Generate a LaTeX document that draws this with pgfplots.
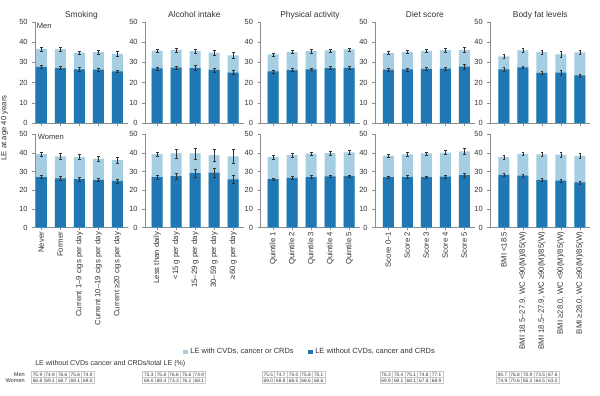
\documentclass[border=0pt]{standalone}
\usepackage{fontspec}
\setmainfont{Liberation Sans}
\usepackage{pgfplots}
\usepackage{pgfplotstable}
\pgfplotsset{compat=1.18}
\definecolor{lightb}{HTML}{A6CEE3}
\definecolor{darkb}{HTML}{1F78B4}
\definecolor{axgray}{HTML}{8C8C8C}
\definecolor{txt}{HTML}{333333}
\definecolor{tabline}{HTML}{C8C8C8}

\pgfplotstableread{
x t te d de
1 36.6 1.0 27.8 0.7
2 36.5 1.0 27.2 0.7
3 34.8 0.9 26.6 0.8
4 35.0 1.0 26.4 0.7
5 34.2 1.1 25.6 0.6
}\smM
\pgfplotstableread{
x t te d de
1 39.3 1.0 27.0 0.8
2 38.2 1.5 26.4 1.0
3 37.8 1.4 26.0 0.9
4 37.0 1.3 25.6 1.0
5 36.3 1.6 25.0 1.1
}\smW
\pgfplotstableread{
x t te d de
1 35.8 0.9 27.0 0.8
2 36.2 1.0 27.4 0.9
3 35.5 1.2 27.2 1.2
4 34.8 1.2 26.3 1.0
5 33.4 1.5 25.0 0.9
}\alM
\pgfplotstableread{
x t te d de
1 39.3 1.3 27.1 1.0
2 39.7 2.5 27.6 1.6
3 39.7 2.9 29.2 2.2
4 38.8 3.0 29.4 2.5
5 38.2 3.6 25.9 2.3
}\alW
\pgfplotstableread{
x t te d de
1 33.9 0.8 25.6 0.7
2 35.1 0.8 26.2 0.7
3 35.5 0.8 26.6 0.7
4 35.9 0.8 27.2 0.7
5 36.4 0.8 27.3 0.7
}\ptM
\pgfplotstableread{
x t te d de
1 37.7 1.1 26.0 0.6
2 38.8 1.1 26.7 0.6
3 39.6 0.9 27.1 0.7
4 39.9 0.9 27.4 0.6
5 40.3 0.9 27.6 0.7
}\ptW
\pgfplotstableread{
x t te d de
1 34.6 0.8 26.4 0.7
2 35.2 0.8 26.5 0.7
3 35.7 0.9 26.8 0.8
4 36.0 1.0 26.9 0.8
5 36.2 1.4 27.9 1.3
}\dtM
\pgfplotstableread{
x t te d de
1 38.6 0.9 27.0 0.7
2 39.2 0.9 27.1 0.7
3 39.7 0.9 27.0 0.7
4 40.2 1.0 27.3 0.7
5 40.8 1.6 28.1 1.1
}\dtW
\pgfplotstableread{
x t te d de
1 33.0 0.9 26.6 0.8
2 35.9 0.9 27.6 0.7
3 35.0 1.1 24.8 0.8
4 34.0 1.6 25.0 1.1
5 34.9 1.0 23.6 0.7
}\bfM
\pgfplotstableread{
x t te d de
1 37.8 1.2 28.3 0.8
2 39.5 1.0 27.9 0.7
3 39.2 1.0 25.6 0.8
4 39.1 1.4 25.2 0.9
5 38.4 1.3 24.2 0.7
}\bfW

\pgfplotsset{
 base/.style={
  anchor=south west,
  x=14.25pt,
  xmax=5.55, ymin=0, ymax=50,
  axis lines=left, axis line style={-, axgray, line width=0.4pt},
  xtick={1,...,5}, ytick={0,10,...,50},
  tick style={axgray, line width=0.4pt},
  major tick length=2pt, tick align=outside,
  ticklabel style={font=\fontsize{5.6}{6}\selectfont, text=txt},
  /pgf/number format/assume math mode=true,
  clip=false,
  title style={font=\fontsize{6.3}{7}\selectfont, text=txt, at={(0.5,1)}, anchor=base, yshift=-3pt},
  xticklabels={},
 },
 wlab/.style={xticklabel style={rotate=90, anchor=east, inner sep=1pt, font=\fontsize{5.8}{6}\selectfont}},
 ebar/.style={error bars/.cd, y dir=both, y explicit,
   error bar style={draw=txt, line width=0.35pt},
   error mark options={draw=txt, rotate=90, mark size=1.1pt, line width=0.35pt}},
}

\newcommand{\drawpanel}[6]{%
\begin{axis}[base, at={({#1*0.75pt},{(396-#2)*0.75pt})}, y=#3, xmin=#4, #6]
\addplot[ybar, bar width=8.25pt, fill=lightb, draw=none, ebar] table[x=x, y=t, y error=te] {#5};
\addplot[ybar, bar width=8.25pt, fill=darkb, draw=none, ebar] table[x=x, y=d, y error=de] {#5};
\end{axis}}

\tikzset{tabtxt/.style={font=\fontsize{3.6}{4}\selectfont, text=txt, inner sep=0}}
\newcommand{\tab}[3]{%
 \begin{scope}[shift={({#1*0.75pt},{(396-371.7)*0.75pt})}, x=0.75pt, y=-0.75pt]
 \draw[tabline, line width=0.3pt] (0,0) rectangle (63,11.6);
 \draw[tabline, line width=0.3pt] (0,5.8) -- (63,5.8);
 \foreach \k in {1,...,4} \draw[tabline, line width=0.3pt] (12.6*\k,0) -- (12.6*\k,11.6);
 \foreach \v [count=\i] in {#2} \node[tabtxt] at (12.6*\i-6.3, 2.9) {\v};
 \foreach \v [count=\i] in {#3} \node[tabtxt] at (12.6*\i-6.3, 8.7) {\v};
 \end{scope}}

\begin{document}
\begin{tikzpicture}
\useasboundingbox (0,0) rectangle (450pt,297pt);
% Men row
\drawpanel{35}{123.3}{1.5225pt}{0.67}{\smM}{title={Smoking}}
\drawpanel{145}{123.3}{1.5225pt}{0.36}{\alM}{title={Alcohol intake}}
\drawpanel{260.3}{123.3}{1.5225pt}{0.32}{\ptM}{title={Physical activity}}
\drawpanel{375}{123.3}{1.5225pt}{0.30}{\dtM}{title={Diet score}}
\drawpanel{490.1}{123.3}{1.5225pt}{0.27}{\bfM}{title={Body fat levels}}
% Women row
\drawpanel{35}{227.7}{1.4025pt}{0.67}{\smW}{wlab, xticklabels={Never,Former,Current 1–9 cigs per day,Current 10–19 cigs per day,Current ≥20 cigs per day}}
\drawpanel{145}{227.7}{1.4025pt}{0.36}{\alW}{wlab, xticklabels={Less than daily,<15 g per day,15–29 g per day,30–59 g per day,≥60 g per day}}
\drawpanel{260.3}{227.7}{1.4025pt}{0.32}{\ptW}{wlab, xticklabels={Quintile 1,Quintile 2,Quintile 3,Quintile 4,Quintile 5}}
\drawpanel{375}{227.7}{1.4025pt}{0.30}{\dtW}{wlab, xticklabels={Score 0–1,Score 2,Score 3,Score 4,Score 5}}
\drawpanel{490.1}{227.7}{1.4025pt}{0.27}{\bfW}{wlab, xticklabels={BMI <18.5,{BMI 18.5–27.9, WC <90(M)/85(W)},{BMI 18.5–27.9, WC ≥90(M)/85(W)},{BMI ≥28.0, WC <90(M)/85(W)},{BMI ≥28.0, WC ≥90(M)/85(W)}}}

\node[anchor=west, inner sep=0, font=\fontsize{5.7}{6}\selectfont, text=txt] at ({36.5*0.75pt},{(396-26)*0.75pt}) {Men};
\node[anchor=west, inner sep=0, font=\fontsize{5.7}{6}\selectfont, text=txt] at ({37.5*0.75pt},{(396-136.7)*0.75pt}) {Women};
\node[rotate=90, inner sep=0, font=\fontsize{5.8}{6}\selectfont, text=txt] at ({4.5*0.75pt},{(396-128)*0.75pt}) {LE at age 40 years};

% legend
\begin{axis}[at={(0pt,0pt)}, anchor=south west, scale only axis, width=450pt, height=297pt, hide axis,
  xmin=0, xmax=1, ymin=0, ymax=1, legend columns=2,
  legend style={at={(0.5175,0.1111)}, anchor=center, draw=none, fill=none, font=\fontsize{5.6}{6}\selectfont, text=txt,
    /tikz/every even column/.append style={column sep=9pt}},
  legend image code/.code={\fill[#1] (0pt,-1.6pt) rectangle (3.2pt,1.6pt);}]
\addlegendimage{fill=lightb, draw=none}
\addlegendentry{LE with CVDs, cancer or CRDs}
\addlegendimage{fill=darkb, draw=none}
\addlegendentry{LE without CVDs, cancer and CRDs}
\end{axis}

% table
\node[anchor=west, inner sep=0, font=\fontsize{5.3}{6}\selectfont, text=txt] at ({35*0.75pt},{(396-364)*0.75pt}) {LE without CVDs cancer and CRDs/total LE (\%)};
\node[anchor=east, inner sep=0, font=\fontsize{4.2}{5}\selectfont, text=txt] at ({25*0.75pt},{(396-374.6)*0.75pt}) {Men};
\node[anchor=east, inner sep=0, font=\fontsize{4.2}{5}\selectfont, text=txt] at ({25*0.75pt},{(396-380.4)*0.75pt}) {Women};
\tab{31.2}{75.9,74.9,76.6,75.6,74.9}{68.8,69.1,68.7,69.1,69.0}
\tab{142.6}{75.3,75.8,76.6,75.6,74.9}{69.0,69.4,73.3,76.2,68.1}
\tab{262}{75.5,74.7,75.0,75.8,75.1}{69.0,68.9,68.5,68.6,68.6}
\tab{379.8}{76.3,75.4,75.1,74.8,77.1}{69.9,69.1,68.1,67.8,68.9}
\tab{496.2}{80.7,76.8,70.9,73.5,67.6}{74.9,70.6,65.3,64.5,63.0}
\end{tikzpicture}
\end{document}
